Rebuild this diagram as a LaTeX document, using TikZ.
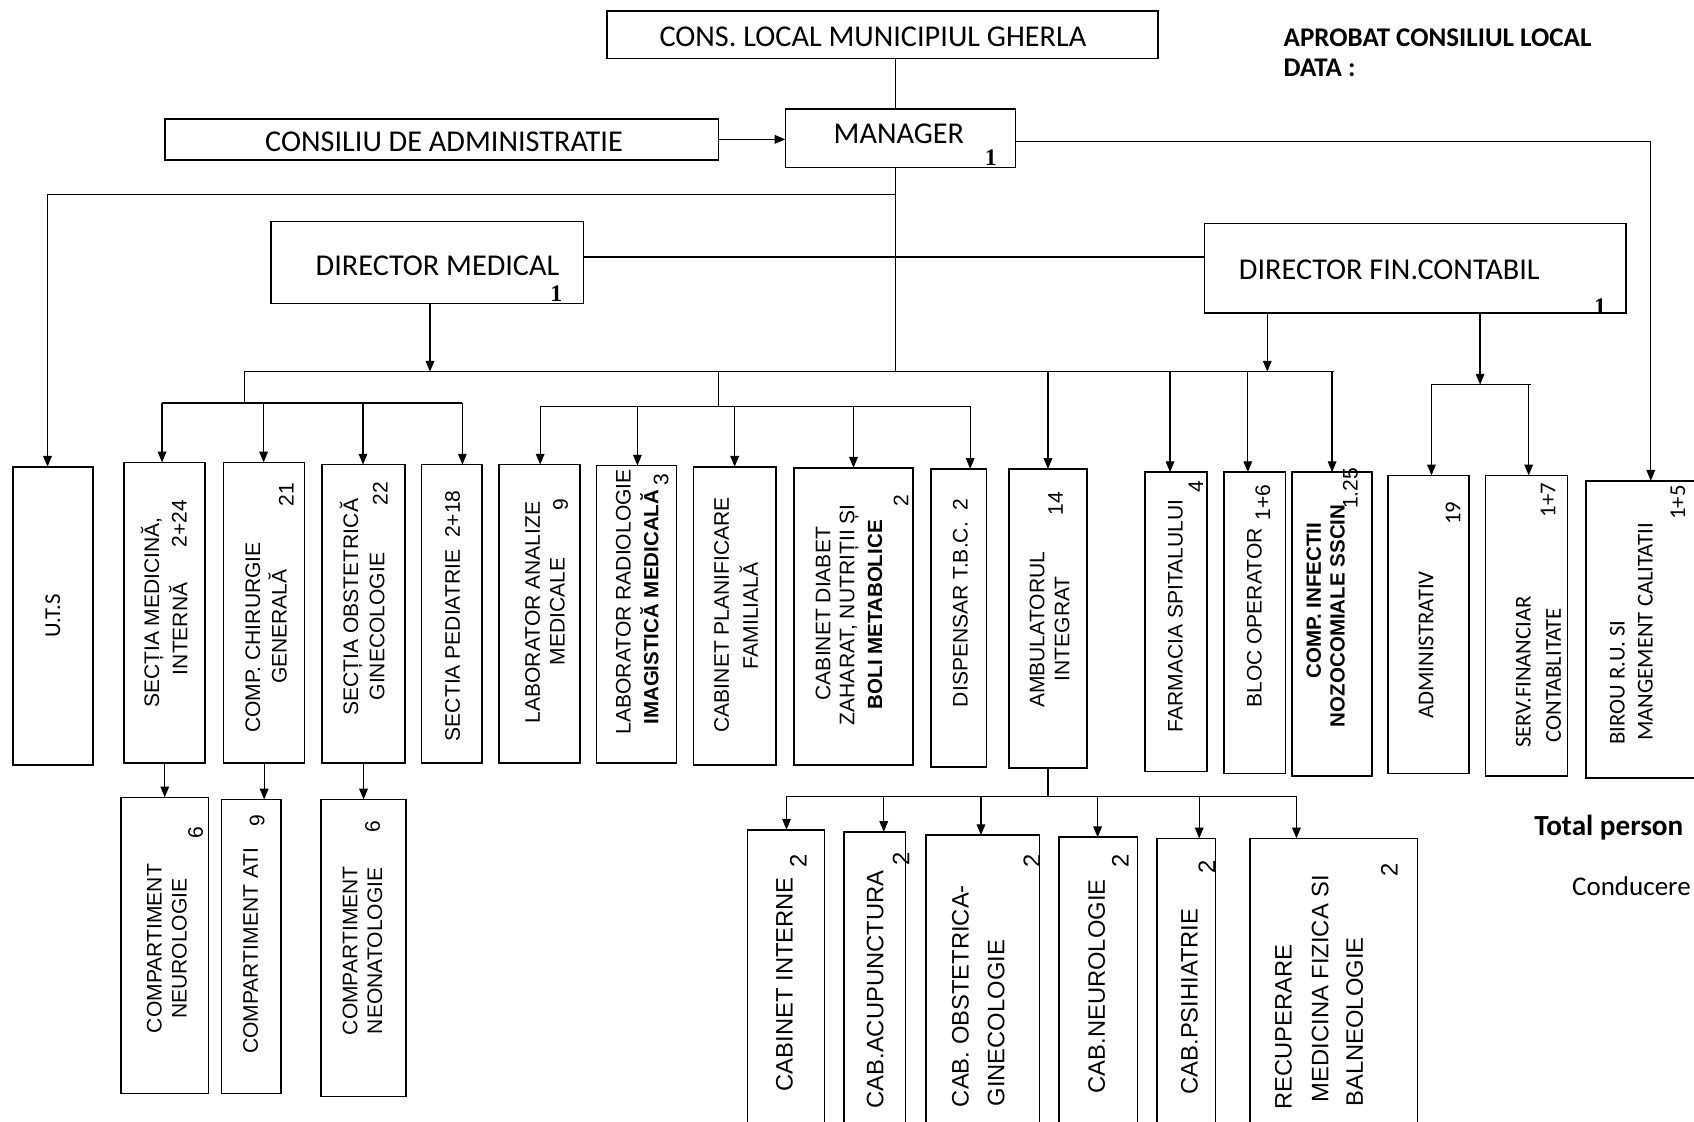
\documentclass[tikz,border=0pt]{standalone}
\usepackage{fontspec}
\setmainfont{Liberation Sans}
\newfontfamily\calfont{Carlito}
\newfontfamily\serfont{Liberation Serif}
\usetikzlibrary{arrows.meta}
\newcommand\mkbox[5]{\node[box,minimum width={#3-#2},minimum height={#5-#4}] (#1) at ({(#2+#3)/2},{(#4+#5)/2}) {};}
\newcommand\drop[3]{\coordinate (j#1) at (#2,#3); \draw[arr] (j#1) -- (j#1 |- #1.north);}
\begin{document}
\begin{tikzpicture}[x=1pt,y=-1pt,
 box/.style={draw,line width=1.5pt,inner sep=0pt,outer sep=0pt},
 lbl/.style={rotate=90,inner sep=0pt,font=\fontsize{19.5}{22}\selectfont},
 lblb/.style={rotate=90,inner sep=0pt,font=\bfseries\fontsize{19}{22}\selectfont},
 lblc/.style={rotate=90,inner sep=0pt,font=\calfont\fontsize{21}{24}\selectfont},
 lbll/.style={rotate=90,inner sep=0pt,font=\fontsize{22}{24}\selectfont},
 toptxt/.style={inner sep=0pt,font=\calfont\fontsize{28}{30}\selectfont},
 one/.style={inner sep=0pt,font=\serfont\bfseries\fontsize{22}{24}\selectfont},
 con/.style={line width=1.2pt},
 arr/.style={con,-{Triangle[length=10pt,width=8pt]}}]
\useasboundingbox (0,0) rectangle (1568,1038);
\clip (0,0) rectangle (1568,1038);
\fill[white] (0,0) rectangle (1568,1038);
% top boxes
\mkbox{cons}{562}{1072}{10}{54}
\mkbox{man}{727}{940}{101}{155}
\mkbox{cda}{153}{665}{110}{148}
\mkbox{dm}{251}{540}{205}{281}
\mkbox{dfc}{1115}{1505}{207}{290}
\node[toptxt] (tcons) at (808,34) {CONS. LOCAL MUNICIPIUL GHERLA};
\node[toptxt] (tcda) at (411,131) {CONSILIU DE ADMINISTRATIE};
\node[toptxt] (tman) at (832,124) {MANAGER};
\node[toptxt] (tdm) at (405,246) {DIRECTOR MEDICAL};
\node[toptxt] (tdfc) at (1286,250) {DIRECTOR FIN.CONTABIL};
\node[one] (oman) at (917,146) {1};
\node[one] (odm) at (515,272) {1};
\node[one] (odfc) at (1481,284) {1};
\node[inner sep=0pt,anchor=west,font=\calfont\bfseries\fontsize{25}{28}\selectfont] (apr) at (1188,35) {APROBAT CONSILIUL LOCAL};
\node[inner sep=0pt,anchor=west,font=\calfont\bfseries\fontsize{25}{28}\selectfont] (data) at (1188,63) {DATA :};
\node[inner sep=0pt,anchor=west,font=\calfont\bfseries\fontsize{27}{30}\selectfont] (tot) at (1420,766) {Total person};
\node[inner sep=0pt,anchor=west,font=\calfont\fontsize{25}{28}\selectfont] (cond) at (1455,820) {Conducere};
% middle row
\mkbox{uts}{12}{86}{432}{708}
\mkbox{smi}{115}{190}{428}{706}
\mkbox{cch}{207}{282}{428}{706}
\mkbox{sog}{298}{375}{430}{706}
\mkbox{sped}{390}{446}{430}{706}
\mkbox{lam}{462}{537}{430}{706}
\mkbox{lrim}{552}{626}{431}{706}
\mkbox{cpf}{642}{718}{432}{708}
\mkbox{cdz}{735}{845}{433}{708}
\mkbox{dtbc}{862}{913}{434}{710}
\mkbox{amb}{934}{1006}{434}{711}
\mkbox{farm}{1060}{1117}{437}{714}
\mkbox{bloc}{1133}{1190}{437}{716}
\mkbox{cin}{1196}{1270}{437}{718}
\mkbox{adm}{1285}{1360}{440}{716}
\mkbox{sfc}{1375}{1451}{440}{718}
\mkbox{birou}{1468}{1590}{445}{720}
% bottom rows
\mkbox{neuro}{112}{193}{738}{1012}
\mkbox{ati}{205}{260}{740}{1012}
\mkbox{neon}{297}{376}{740}{1015}
\mkbox{ci}{692}{763}{768}{1060}
\mkbox{acu}{781}{838}{770}{1060}
\mkbox{obg}{857}{962}{773}{1060}
\mkbox{cneu}{980}{1053}{775}{1060}
\mkbox{psi}{1071}{1125}{776}{1060}
\mkbox{rec}{1157}{1312}{776}{1060}
% labels middle
\node[lblc] (tuts) at (49,570) {U.T.S};
\node[lbl] (tsmi1) at (141,567) {SECȚIA MEDICINĂ,};
\node[lbl] (tsmi2) at (165,582) {INTERNĂ};
\node[lbl] (tsmi3) at (166,485) {2+24};
\node[lbl] (tcch1) at (234,590) {COMP. CHIRURGIE};
\node[lbl] (tcch2) at (257,580) {GENERALĂ};
\node[lbl] (tcch3) at (265,458) {21};
\node[lbl] (tsog1) at (325,562) {SECȚIA OBSTETRICĂ};
\node[lbl] (tsog2) at (349,580) {GINECOLOGIE};
\node[lbl] (tsog3) at (352,457) {22};
\node[lbl] (tsped) at (419,570) {SECTIA PEDIATRIE\ \ 2+18};
\node[lbl] (tlam1) at (493,567) {LABORATOR ANALIZE};
\node[lbl] (tlam2) at (516,566) {MEDICALE};
\node[lbl] (tlam3) at (519,467) {9};
\node[lbl] (tlrim1) at (577,557) {LABORATOR RADIOLOGIE};
\node[lblb] (tlrim2) at (601,562) {IMAGISTICĂ MEDICALĂ};
\node[lbl] (tlrim3) at (612,444) {3};
\node[lbl] (tcpf1) at (668,569) {CABINET PLANIFICARE};
\node[lbl] (tcpf2) at (693,570) {FAMILIALĂ};
\node[lbl] (tcdz1) at (762,568) {CABINET DIABET};
\node[lbl] (tcdz2) at (786,569) {ZAHARAT, NUTRIȚII ȘI};
\node[lblb] (tcdz3) at (810,569) {BOLI METABOLICE};
\node[lbl] (tcdz4) at (834,463) {2};
\node[lbl] (tdtbc) at (889,558) {DISPENSAR T.B.C.\ \ 2};
\node[lbl] (tamb1) at (960,583) {AMBULATORUL};
\node[lbl] (tamb2) at (983,582) {INTEGRAT};
\node[lbl] (tamb3) at (977,466) {14};
\node[lbl] (tfarm1) at (1088,570) {FARMACIA SPITALULUI};
\node[lbl] (tfarm2) at (1107,450) {4};
\node[lbl] (tbloc1) at (1161,572) {BLOC OPERATOR};
\node[lbl] (tbloc2) at (1169,465) {1+6};
\node[lblb] (tcin1) at (1216,556) {COMP. INFECTII};
\node[lblb] (tcin2) at (1238,570) {NOZOCOMIALE SSCIN};
\node[lbl] (tcin3) at (1250,452) {1.25};
\node[lblc] (tadm1) at (1320,597) {ADMINISTRATIV};
\node[lblc] (tadm2) at (1345,475) {19};
\node[lblc] (tsfc1) at (1410,622) {SERV.FINANCIAR};
\node[lblc] (tsfc2) at (1438,625) {CONTABLITATE};
\node[lblc] (tsfc3) at (1433,463) {1+7};
\node[lblc] (tbir1) at (1497,632) {BIROU R.U. SI};
\node[lblc] (tbir2) at (1523,585) {MANGEMENT CALITATII};
\node[lblc] (tbir3) at (1553,465) {1+5};
% labels bottom
\node[lbl] (tneu1) at (143,878) {COMPARTIMENT};
\node[lbl] (tneu2) at (166,878) {NEUROLOGIE};
\node[lbl] (tneu3) at (181,771) {6};
\node[lbl] (tati1) at (232,880) {COMPARTIMENT ATI};
\node[lbl] (tati2) at (238,760) {9};
\node[lbl] (tneo1) at (324,880) {COMPARTIMENT};
\node[lbl] (tneo2) at (347,880) {NEONATOLOGIE};
\node[lbl] (tneo3) at (345,765) {6};
\node[lbll] (tci1) at (726,911) {CABINET INTERNE};
\node[lbll] (tci2) at (739,797) {2};
\node[lbll] (tacu1) at (810,916) {CAB.ACUPUNCTURA};
\node[lbll] (tacu2) at (834,795) {2};
\node[lbll] (tobg1) at (889,922) {CAB. OBSTETRICA-};
\node[lbll] (tobg2) at (922,947) {GINECOLOGIE};
\node[lbll] (tobg3) at (955,797) {2};
\node[lbll] (tcneu1) at (1015,913) {CAB.NEUROLOGIE};
\node[lbll] (tcneu2) at (1037,797) {2};
\node[lbll] (tpsi1) at (1101,927) {CAB.PSIHIATRIE};
\node[lbll] (tpsi2) at (1117,802) {2};
\node[lbll] (trec1) at (1188,951) {RECUPERARE};
\node[lbll] (trec2) at (1222,915) {MEDICINA FIZICA SI};
\node[lbll] (trec3) at (1254,946) {BALNEOLOGIE};
\node[lbll] (trec4) at (1286,805) {2};
% connectors
\coordinate (vx) at (829,0);
\draw[con] (cons.south -| vx) -- (man.north -| vx);
\draw[arr] (cda.east) -- (cda.east -| man.west);
\coordinate (bk) at (1528,131);
\draw[arr] (man.east |- bk) -- (bk) -- (bk |- birou.north);
\coordinate (bar) at (0,344);
\draw[con] (man.south -| vx) -- (vx |- bar);
\coordinate (ut) at (44,180);
\draw[con] (vx |- ut) -- (ut);
\draw[arr] (ut) -- (ut |- uts.north);
\coordinate (dy) at (0,238);
\draw[con] (dm.east |- dy) -- (dfc.west |- dy);
\coordinate (dmx) at (398,0);
\draw[arr] (dm.south -| dmx) -- (dmx |- bar);
\coordinate (barL) at (226,344);
\coordinate (barR) at (1235,344);
\draw[con] (barL) -- (barR);
\coordinate (s1) at (226,373);
\coordinate (s1L) at (150,373);
\coordinate (s1R) at (428,373);
\draw[con] (barL) -- (s1);
\draw[con] (s1L) -- (s1R);
\drop{smi}{150}{373}
\drop{cch}{244}{373}
\drop{sog}{336}{373}
\drop{sped}{428}{373}
\coordinate (s2t) at (665,344);
\coordinate (s2) at (665,376);
\coordinate (s2L) at (500,376);
\coordinate (s2R) at (898,376);
\draw[con] (s2t) -- (s2);
\draw[con] (s2L) -- (s2R);
\drop{lam}{500}{376}
\drop{lrim}{590}{376}
\drop{cpf}{680}{376}
\drop{cdz}{790}{376}
\drop{dtbc}{898}{376}
\drop{amb}{970}{344}
\drop{farm}{1083}{344}
\drop{bloc}{1155}{344}
\drop{cin}{1233}{344}
\coordinate (dfx) at (1173,0);
\draw[arr] (dfc.south -| dfx) -- (dfx |- bar);
\coordinate (dfx2) at (1370,356);
\draw[arr] (dfc.south -| dfx2) -- (dfx2);
\coordinate (a3L) at (1325,356);
\coordinate (a3R) at (1417,356);
\draw[con] (a3L) -- (a3R);
\drop{adm}{1325}{356}
\drop{sfc}{1415}{356}
\draw[arr] (smi.south) -- (smi.south |- neuro.north);
\draw[arr] (cch.south) -- (cch.south |- ati.north);
\draw[arr] (sog.south) -- (sog.south |- neon.north);
\coordinate (ab) at (970,737);
\coordinate (abL) at (728,737);
\coordinate (abR) at (1200,737);
\draw[con] (amb.south) -- (ab);
\draw[con] (abL) -- (abR);
\drop{ci}{728}{737}
\drop{acu}{818}{737}
\drop{obg}{908}{737}
\drop{cneu}{1016}{737}
\drop{psi}{1110}{737}
\drop{rec}{1200}{737}
\end{tikzpicture}
\end{document}
